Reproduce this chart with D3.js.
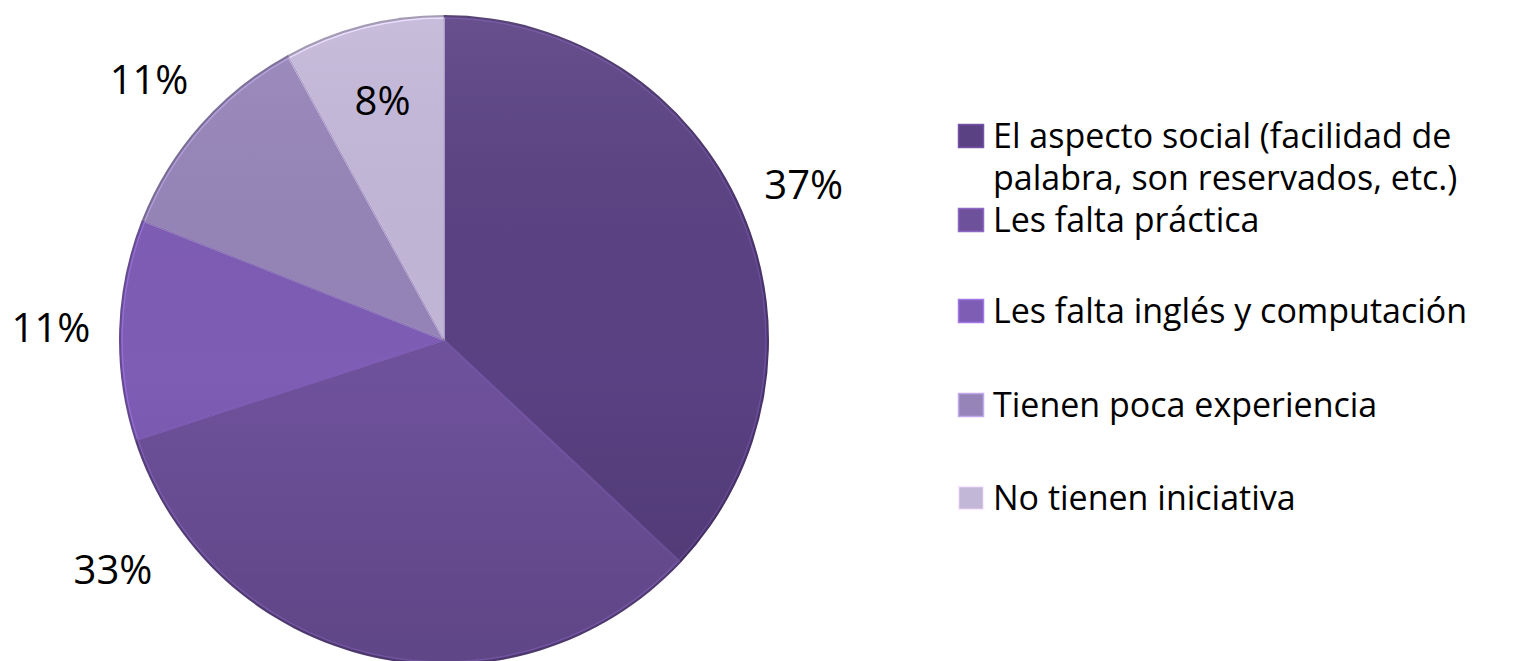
<!DOCTYPE html>
<html>
<head>
<meta charset="utf-8">
<script src="https://cdn.jsdelivr.net/npm/d3@7"></script>
<style>
  body { margin: 0; background: #fff; }
  svg { display: block; font-family: "Open Sans", Lato, sans-serif; }
</style>
</head>
<body>
<svg id="chart"></svg>
<script>
// data
const categories = [
  "El aspecto social (facilidad de palabra, son reservados, etc.)",
  "Les falta práctica",
  "Les falta inglés y computación",
  "Tienen poca experiencia",
  "No tienen iniciativa"
];
const legendLines = [
  ["El aspecto social (facilidad de", "palabra, son reservados, etc.)"],
  ["Les falta práctica"],
  ["Les falta inglés y computación"],
  ["Tienen poca experiencia"],
  ["No tienen iniciativa"]
];
const values = [37, 33, 11, 11, 8];
const colors = ["#5a4183", "#6e519b", "#7e5db5", "#9684b8", "#c3b7d8"];

const width = 1516, height = 661;
const cx = 444, cy = 340, radius = 325;

const svg = d3.select("#chart").attr("width", width).attr("height", height);
const defs = svg.append("defs");

// gentle top-to-bottom shading like the office 3d look
const shade = defs.append("linearGradient")
  .attr("id", "shade").attr("x1", 0).attr("y1", 0).attr("x2", 0).attr("y2", 1);
shade.append("stop").attr("offset", "0%").attr("stop-color", "#fff").attr("stop-opacity", 0.08);
shade.append("stop").attr("offset", "55%").attr("stop-color", "#000").attr("stop-opacity", 0);
shade.append("stop").attr("offset", "100%").attr("stop-color", "#000").attr("stop-opacity", 0.14);

const pie = d3.pie().sort(null).value(d => d);
const arcs = pie(values);

const arc = d3.arc().innerRadius(0).outerRadius(radius);
const bevel = d3.arc().innerRadius(0).outerRadius(radius - 3);

const g = svg.append("g").attr("transform", `translate(${cx},${cy})`);

// dark rim
g.selectAll(".rim")
  .data(arcs)
  .join("path")
  .attr("class", "rim")
  .attr("d", arc)
  .attr("fill", (d, i) => d3.color(colors[i]).darker(0.6))
  .attr("stroke", "none");

// slices
g.selectAll(".slice")
  .data(arcs)
  .join("path")
  .attr("class", "slice")
  .attr("d", bevel)
  .attr("fill", (d, i) => colors[i])
  .attr("stroke", (d, i) => d3.color(colors[i]).brighter(0.5))
  .attr("stroke-width", 1.5)
  .attr("stroke-linejoin", "round");

// overall shading
g.append("circle")
  .attr("r", radius)
  .attr("fill", "url(#shade)")
  .attr("pointer-events", "none");

// separating edges
g.selectAll(".edge")
  .data(arcs)
  .join("line")
  .attr("class", "edge")
  .attr("x1", 0).attr("y1", 0)
  .attr("x2", d => radius * Math.sin(d.startAngle))
  .attr("y2", d => -radius * Math.cos(d.startAngle))
  .attr("stroke", "#4a3a66")
  .attr("stroke-opacity", 0.45)
  .attr("stroke-width", 1);

// data labels: radius factor per slice, 33% label was pushed down-left by Excel
const labelRadius = [1.206, 1.24, 1.21, 1.21, 0.76];
const labelShift = [0, 0.744, 0, 0, 0];
g.selectAll(".label")
  .data(arcs)
  .join("text")
  .attr("class", "label")
  .attr("x", (d, i) => {
    const a = (d.startAngle + d.endAngle) / 2 + labelShift[i];
    return Math.sin(a) * radius * labelRadius[i];
  })
  .attr("y", (d, i) => {
    const a = (d.startAngle + d.endAngle) / 2 + labelShift[i];
    return -Math.cos(a) * radius * labelRadius[i];
  })
  .attr("text-anchor", "middle")
  .attr("dy", "0.36em")
  .attr("font-size", 40)
  .attr("fill", "#000")
  .text(d => d.data + "%");

// legend
const legendX = 958, rowY = [148, 232, 323, 417, 510], lineH = 42;
const legend = svg.append("g").attr("class", "legend");
const items = legend.selectAll(".item")
  .data(legendLines)
  .join("g")
  .attr("class", "item")
  .attr("transform", (d, i) => `translate(${legendX},${rowY[i]})`);

items.append("rect")
  .attr("x", 0.5).attr("y", -23.5)
  .attr("width", 25).attr("height", 23)
  .attr("fill", (d, i) => colors[i])
  .attr("stroke", (d, i) => d3.color(colors[i]).brighter(0.7))
  .attr("stroke-width", 1.5);

items.append("text")
  .attr("x", 35)
  .attr("font-size", 34)
  .attr("fill", "#000")
  .selectAll("tspan")
  .data(d => d)
  .join("tspan")
  .attr("x", 35)
  .attr("dy", (d, i) => i === 0 ? 0 : lineH)
  .text(d => d);
</script>
</body>
</html>
